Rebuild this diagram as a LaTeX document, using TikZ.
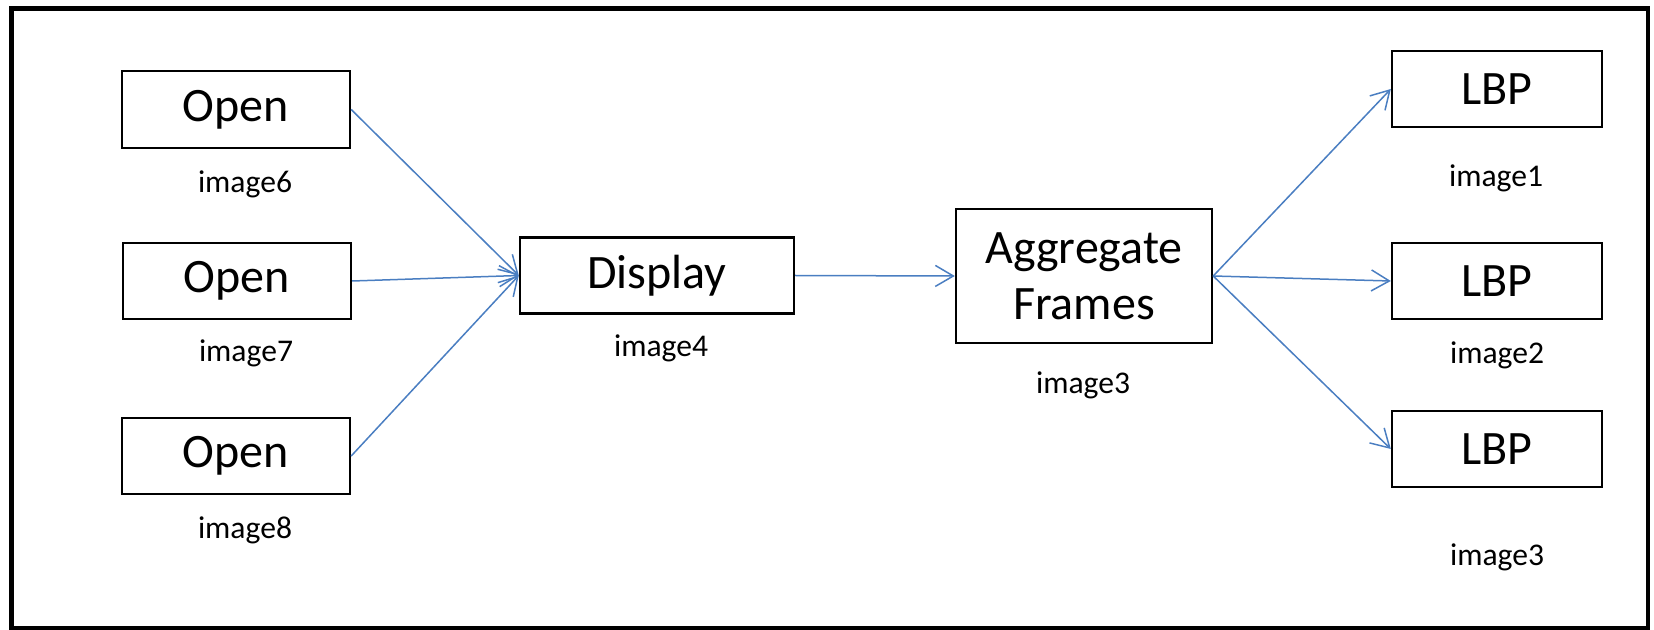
\documentclass[tikz,border=0pt]{standalone}
\usepackage{fontspec}
\setmainfont{Carlito}
\usetikzlibrary{arrows.meta}
\definecolor{arrowblue}{RGB}{74,126,193}
\begin{document}
\begin{tikzpicture}[x=0.5pt,y=-0.5pt,
  box/.style={draw=black,line width=1.2pt,inner sep=0pt,font=\fontsize{24}{27}\selectfont,align=center},
  lbl/.style={inner sep=0pt,font=\fontsize{15.8}{18}\selectfont},
  conn/.style={draw=arrowblue,line width=0.75pt,-{Straight Barb[length=9pt,width=10.5pt,line width=0.75pt]}}]
\useasboundingbox (0,0) rectangle (1654,630);
\draw[line width=2.4pt] (11.5,8.5) rectangle (1648,628);
% boxes
\node[box,minimum width=114pt,minimum height=38.5pt] (o1) at (236,109.5) {Open};
\node[box,minimum width=114pt,minimum height=38pt] (o2) at (237,281) {Open};
\node[box,minimum width=114pt,minimum height=38pt] (o3) at (236,456) {Open};
\node[box,minimum width=137pt,minimum height=38pt] (disp) at (657,275.5) {Display};
\node[box,minimum width=128pt,minimum height=67pt] (agg) at (1084,276) {Aggregate\\[1pt]Frames};
\node[box,minimum width=105pt,minimum height=38pt] (l1) at (1497,89) {LBP};
\node[box,minimum width=105pt,minimum height=38pt] (l2) at (1497,281) {LBP};
\node[box,minimum width=105pt,minimum height=38pt] (l3) at (1497,449) {LBP};
% labels
\node[lbl] (t6) at (245,184) {image6};
\node[lbl] (t7) at (246,353) {image7};
\node[lbl] (t8) at (245,530) {image8};
\node[lbl] (t4) at (661,348) {image4};
\node[lbl] (t3a) at (1083,385) {image3};
\node[lbl] (t1) at (1496,178) {image1};
\node[lbl] (t2) at (1497,355) {image2};
\node[lbl] (t3b) at (1497,557) {image3};
% connectors
\draw[conn] (o1.east) -- (disp.west);
\draw[conn] (o2.east) -- (disp.west);
\draw[conn] (o3.east) -- (disp.west);
\draw[conn] (disp.east) -- (agg.west);
\draw[conn] (agg.east) -- (l1.west);
\draw[conn] (agg.east) -- (l2.west);
\draw[conn] (agg.east) -- (l3.west);
\end{tikzpicture}
\end{document}
